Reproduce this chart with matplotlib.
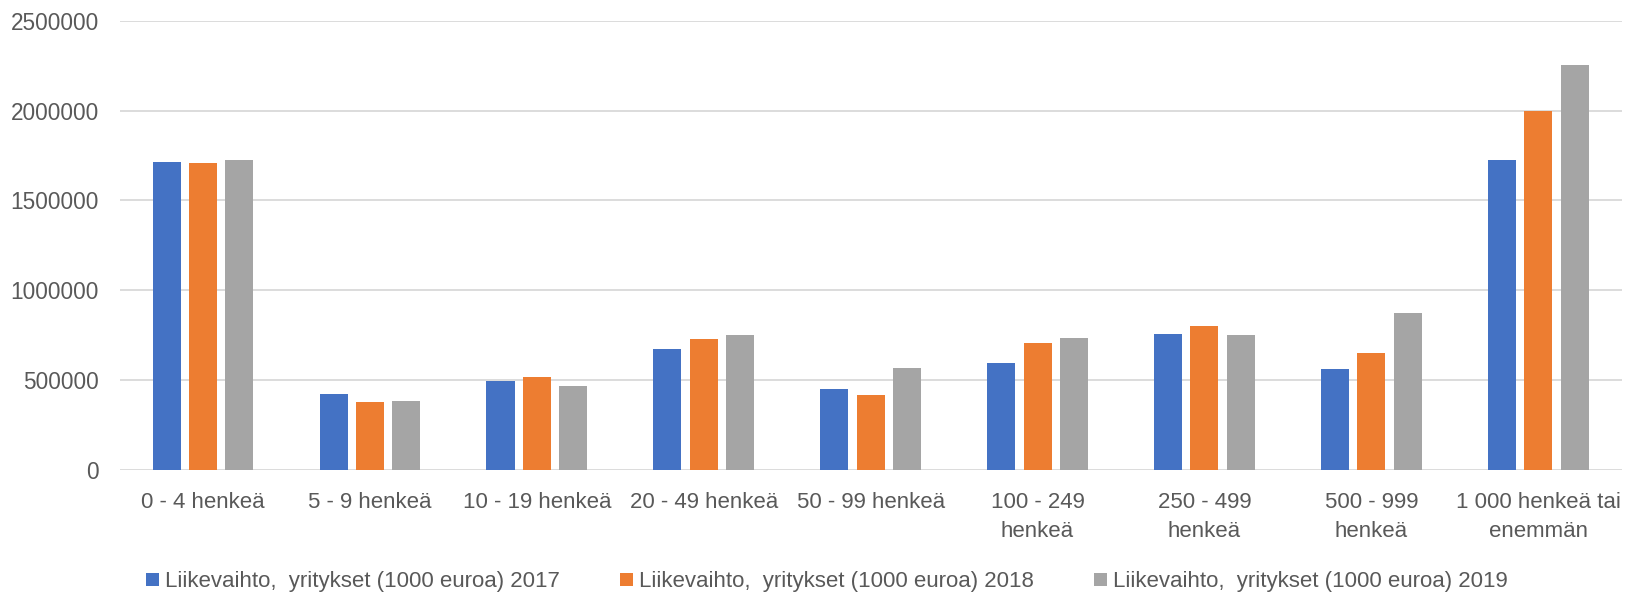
import matplotlib
matplotlib.use("Agg")
import matplotlib.pyplot as plt
import numpy as np

categories = ["0 - 4 henkeä", "5 - 9 henkeä", "10 - 19 henkeä", "20 - 49 henkeä",
              "50 - 99 henkeä", "100 - 249\nhenkeä", "250 - 499\nhenkeä",
              "500 - 999\nhenkeä", "1 000 henkeä tai\nenemmän"]
series_names = ["Liikevaihto,  yritykset (1000 euroa) 2017",
                "Liikevaihto,  yritykset (1000 euroa) 2018",
                "Liikevaihto,  yritykset (1000 euroa) 2019"]
v2017 = [1715000, 425000, 498000, 671000, 453000, 596000, 758000, 561000, 1726000]
v2018 = [1710000, 378000, 515000, 729000, 418000, 706000, 804000, 654000, 2000000]
v2019 = [1728000, 385000, 469000, 752000, 567000, 735000, 752000, 874000, 2253000]
yticks = [0, 500000, 1000000, 1500000, 2000000, 2500000]

colors = ["#4472C4", "#ED7D31", "#A5A5A5"]
text_color = "#595959"
plt.rcParams['font.family'] = ['Liberation Sans', 'DejaVu Sans']

fig = plt.figure(figsize=(16.30, 5.98), dpi=100)
ax = fig.add_axes([0.0734, 0.214, 0.9215, 0.7512])

x = np.arange(len(categories))
width = 0.168
step = 0.218
for i, (vals, name) in enumerate(zip([v2017, v2018, v2019], series_names)):
    ax.bar(x + (i - 1) * step, vals, width=width, color=colors[i], label=name, zorder=3)

ax.set_xlim(-0.5, len(categories) - 0.5)
ax.set_ylim(0, 2500000)
ax.set_yticks(yticks)
ax.set_yticklabels([str(t) for t in yticks])
ax.set_xticks(x)
ax.set_xticklabels(categories, linespacing=1.5)
ax.grid(axis='y', color='#D9D9D9', linewidth=1.3, zorder=0)
for s in ax.spines.values():
    s.set_visible(False)
ax.tick_params(axis='both', length=0, labelsize=16, colors=text_color)
ax.tick_params(axis='y', pad=15, labelsize=16.3)
ax.tick_params(axis='x', pad=16)

fig.legend(loc='center', bbox_to_anchor=(0.5074, 0.027), ncol=3, frameon=False,
           fontsize=16, handlelength=0.59, handleheight=0.59, handletextpad=0.27,
           columnspacing=2.7, labelcolor=text_color, borderpad=0)

fig.savefig("out.png", dpi=100)
